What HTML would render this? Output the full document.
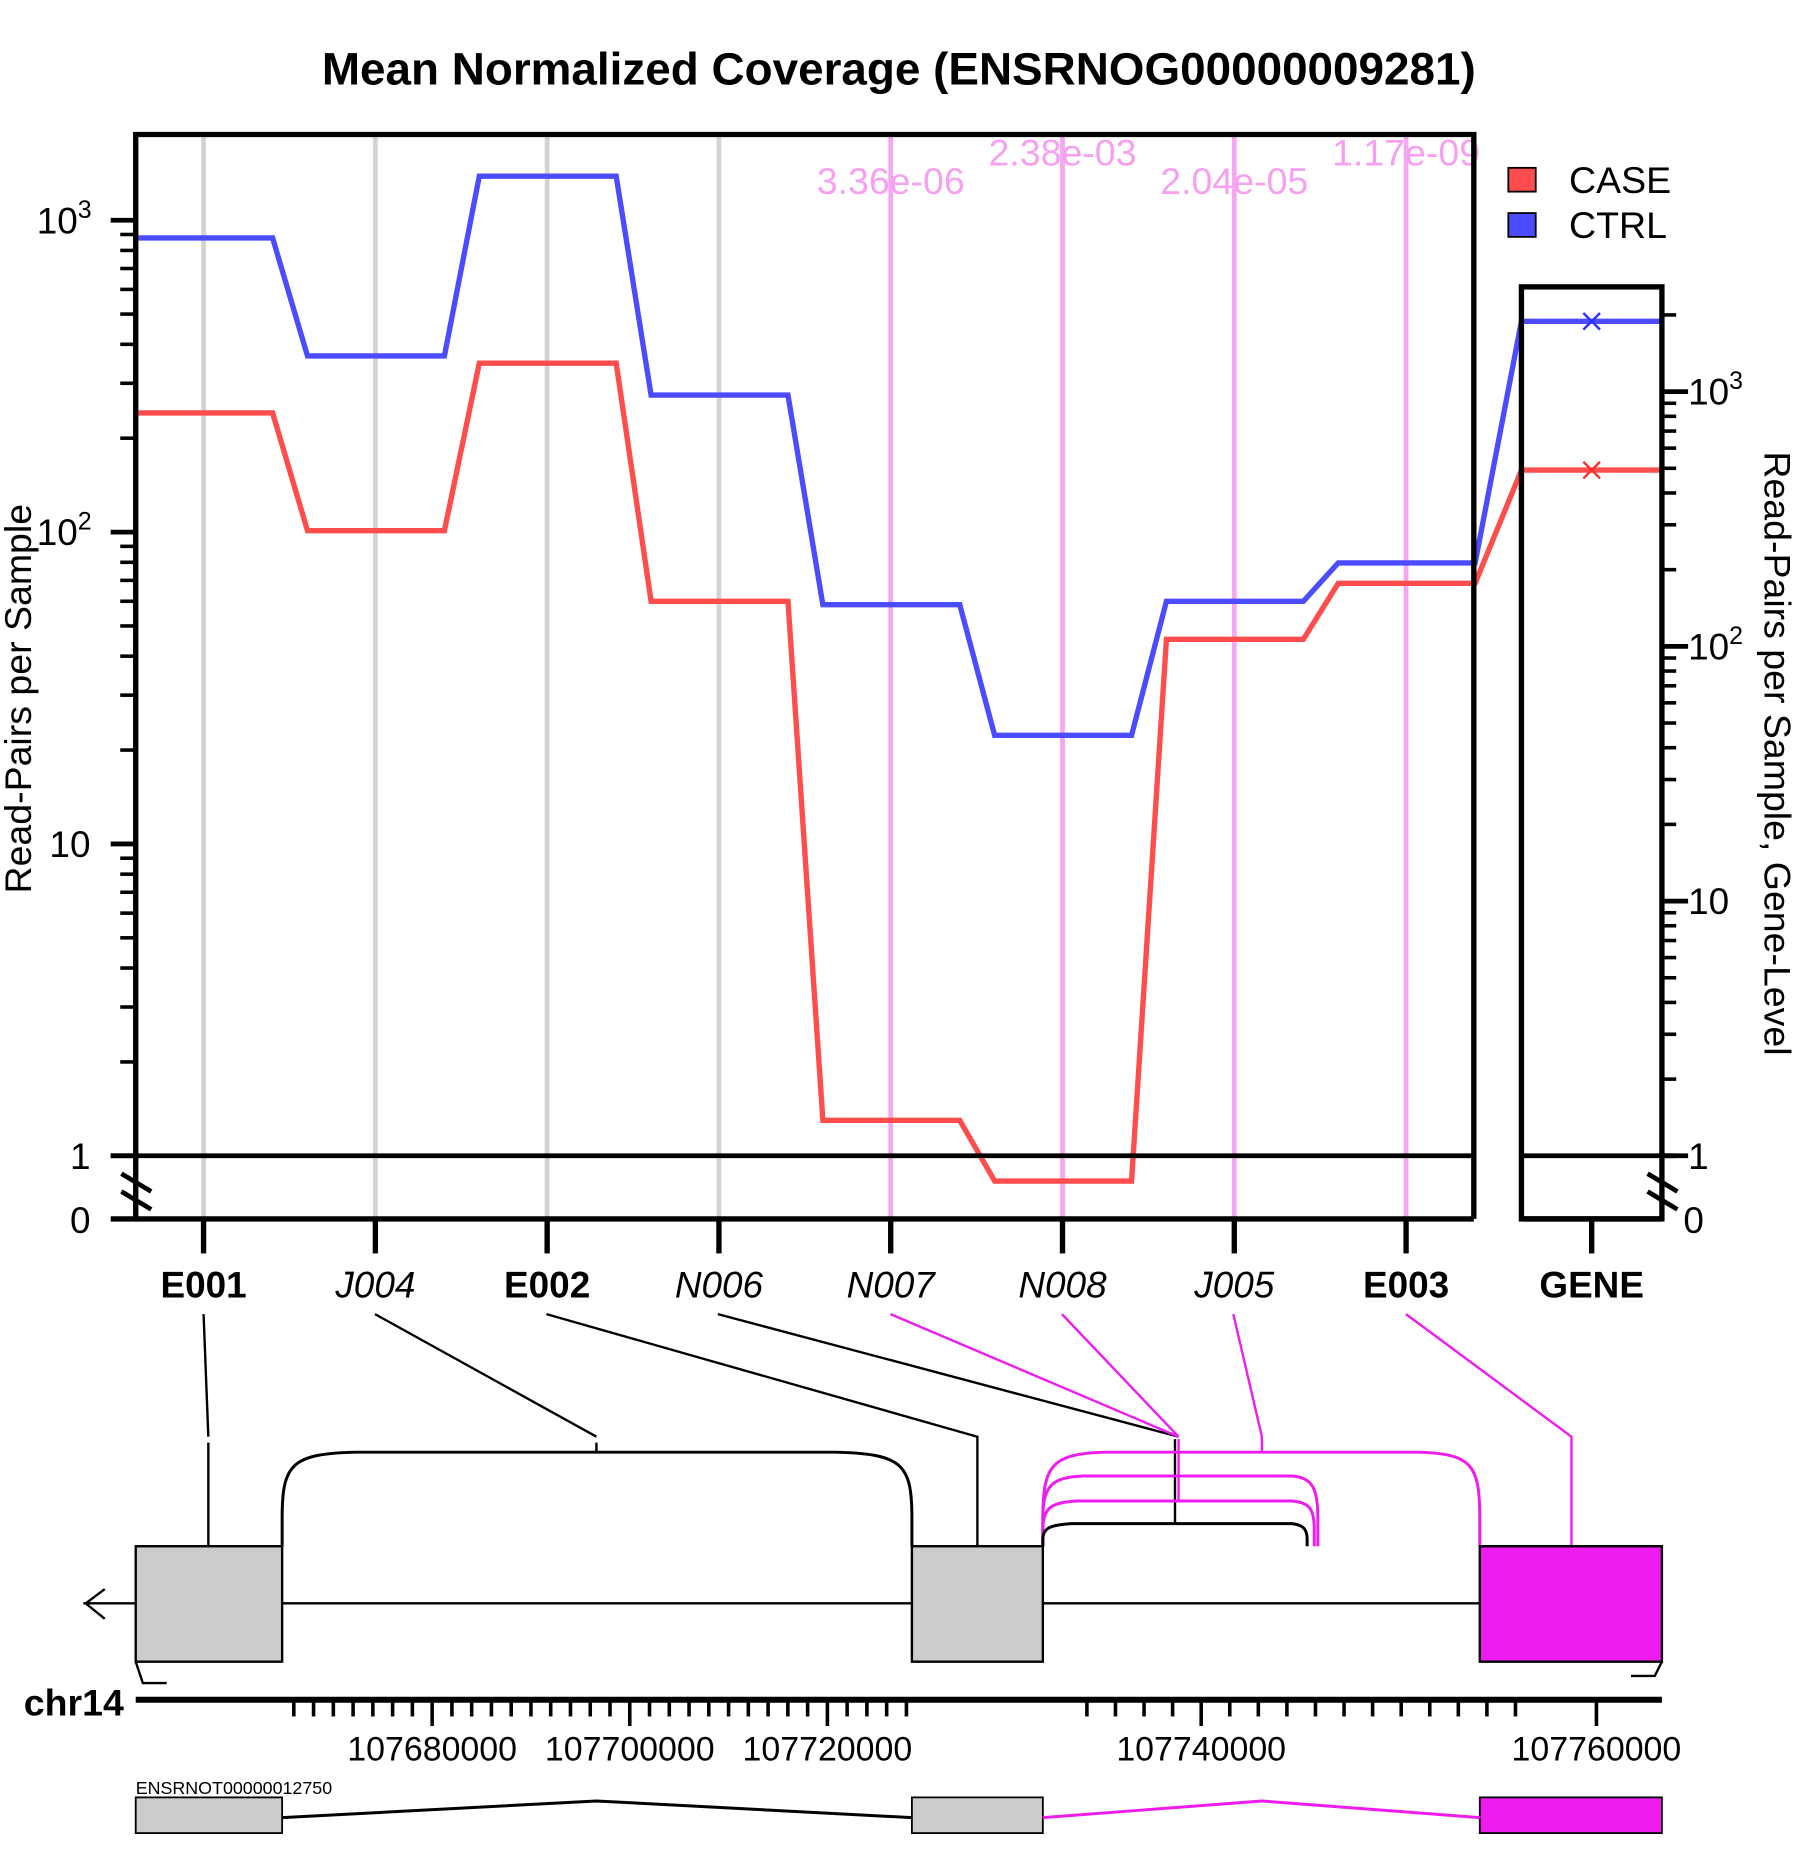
<!DOCTYPE html>
<html><head><meta charset="utf-8"><style>
html,body{margin:0;padding:0;background:#fff;}
svg{display:block;font-family:"Liberation Sans",Arial,sans-serif;}
</style></head><body>
<svg id="chart" width="1800" height="1870" viewBox="0 0 1512 1571" preserveAspectRatio="none" xmlns="http://www.w3.org/2000/svg">
<text x="755" y="71" font-size="38.5" font-weight="bold" text-anchor="middle">Mean Normalized Coverage (ENSRNOG00000009281)</text>
<text transform="translate(26,587) rotate(-90)" font-size="31.5" text-anchor="middle">Read-Pairs per Sample</text>
<text transform="translate(1482,633) rotate(90)" font-size="31.5" text-anchor="middle">Read-Pairs per Sample, Gene-Level</text>
<g id="legend">
<rect x="1267" y="141" width="23" height="20" fill="#ff4c4c" stroke="#000" stroke-width="1.5"/>
<text x="1318" y="162" font-size="31.5">CASE</text>
<rect x="1267" y="179" width="23" height="20" fill="#4c4cff" stroke="#000" stroke-width="1.5"/>
<text x="1318" y="200" font-size="31.5">CTRL</text>
</g>
<g id="g-grid"></g><g id="g-series"></g><g id="g-frame"></g><g id="g-lower"></g>
</svg>
<script>
const features = ["E001","J004","E002","N006","N007","N008","J005","E003"];
const featureBold = [true,false,true,false,false,false,false,true];
const caseValues = [241,101,348,60,1.30,0.6,45.3,68.5];
const ctrlValues = [877,367,1384,275,58.5,22.3,60,79.6];
const geneCase = [492];
const geneCtrl = [1888];
const pValues = ["","","","","3.36e-06","2.38e-03","2.04e-05","1.17e-09"];
const genomicLabels = [107680000,107700000,107720000,107740000,107760000];

const NS="http://www.w3.org/2000/svg";
function mk(parent,tag,attrs){const e=document.createElementNS(NS,tag);for(const k in attrs)e.setAttribute(k,attrs[k]);parent.appendChild(e);return e;}
const X0=114,X1=1238,Y0=971,YZ=1024,DEC=262;
function xF(i){return 171+i*144.3;}
function yF(v){return v>=1?Y0-DEC*Math.log10(v):YZ-53*v;}
function yG(v){return v>=1?Y0-214*Math.log10(v):YZ-53*v;}
const grid=document.getElementById('g-grid'),ser=document.getElementById('g-series'),fr=document.getElementById('g-frame'),low=document.getElementById('g-lower');

features.forEach((f,i)=>{
  const x=xF(i),sig=pValues[i]!=="";
  const l=mk(grid,'line',{x1:x,x2:x,y1:115,y2:1024,stroke:sig?'#f7a6f2':'#d3d3d3','stroke-width':4});
  
  
  if(sig){
    const t=mk(grid,'text',{x:x,y:(i%2===0)?163:139,'font-size':31.5,fill:'#f7a0f0','text-anchor':'middle'});
    t.textContent=pValues[i];
    
    
  }
});

function seriesPath(vals,g,yfun){
  let d='';
  vals.forEach((v,i)=>{const x=xF(i);d+=(i?'L':'M')+(x-57)+','+yF(v)+'L'+(x+58)+','+yF(v);});
  d+='L1278,'+yfun(g)+'L1396,'+yfun(g);
  return d;
}
const pc=mk(ser,'path',{d:seriesPath(caseValues,geneCase[0],yG),fill:'none',stroke:'#ff4c4c','stroke-width':4.5});


const pt=mk(ser,'path',{d:seriesPath(ctrlValues,geneCtrl[0],yG),fill:'none',stroke:'#4c4cff','stroke-width':4.5});


[[geneCase[0],'#ff3030','gene-case-marker'],[geneCtrl[0],'#3030ff','gene-ctrl-marker']].forEach(m=>{
  const y=yG(m[0]);
  const p=mk(ser,'path',{d:`M1330,${y-7}L1344,${y+7}M1330,${y+7}L1344,${y-7}`,stroke:m[1],'stroke-width':2});
  
  
});

let r=mk(fr,'path',{d:`M${X0},1024L${X0},113L${X1},113L${X1},1024`,fill:'none',stroke:'#000','stroke-width':4.5});


r=mk(fr,'rect',{x:1278,y:241,width:118,height:783,fill:'none',stroke:'#000','stroke-width':4.5});


r=mk(fr,'line',{x1:93,x2:X1,y1:1024,y2:1024,stroke:'#000','stroke-width':4.5});


r=mk(fr,'line',{x1:1278,x2:1396,y1:1024,y2:1024,stroke:'#000','stroke-width':4.5});


r=mk(fr,'line',{x1:93,x2:X1,y1:971,y2:971,stroke:'#000','stroke-width':4});


r=mk(fr,'line',{x1:1278,x2:1408,y1:971,y2:971,stroke:'#000','stroke-width':4});


[[114,'left-axis-break'],[1396,'right-axis-break']].forEach(b=>{
  const p=mk(fr,'path',{d:`M${b[0]-12},${986}L${b[0]+13},${1001}M${b[0]-12},${1001}L${b[0]+13},${1016}`,stroke:'#000','stroke-width':4});
  
  
});
for(let k=0;k<4;k++){for(let m=1;m<10;m++){const v=m*Math.pow(10,k);if(v>1000&&m>1)continue;const y=yF(v);
  const t=mk(fr,'line',{x1:m===1?93:101,x2:X0,y1:y,y2:y,stroke:'#000','stroke-width':m===1?4:3});
  
  }}
const yLabels=[[1000,'3'],[100,'2'],[10,''],[1,'']];
yLabels.forEach(l=>{const y=yF(l[0]);
  const t=mk(fr,'text',{x:76,y:y+11,'font-size':31,'text-anchor':'end'});
  if(l[1]){t.textContent='10';const s=mk(t,'tspan',{dy:-13,'font-size':21});s.textContent=l[1];t.setAttribute('x',77);}
  else t.textContent=String(l[0]);
  
  });
let z=mk(fr,'text',{x:76,y:1036,'font-size':31,'text-anchor':'end'});z.textContent='0';


for(let k=0;k<4;k++){for(let m=1;m<10;m++){const v=m*Math.pow(10,k);if(v>2000)continue;const y=yG(v);
  const t=mk(fr,'line',{x1:1396,x2:m===1?1418:1408,y1:y,y2:y,stroke:'#000','stroke-width':m===1?4:3});
  
  }}
yLabels.forEach(l=>{const y=yG(l[0]);
  const t=mk(fr,'text',{x:1418,y:y+11,'font-size':31});
  if(l[1]){t.textContent='10';const s=mk(t,'tspan',{dy:-13,'font-size':21});s.textContent=l[1];}
  else t.textContent=String(l[0]);
  
  });
z=mk(fr,'text',{x:1414,y:1036,'font-size':31});z.textContent='0';


features.concat(['GENE']).forEach((f,i)=>{
  const x=i<8?xF(i):1337;
  const t=mk(fr,'line',{x1:x,x2:x,y1:1024,y2:1053,stroke:'#000','stroke-width':4.5});
  
  
  const bold=i<8?featureBold[i]:true;
  const tx=mk(fr,'text',{x:x,y:1090,'font-size':31,'text-anchor':'middle','font-weight':bold?'bold':'normal','font-style':bold?'normal':'italic'});
  tx.textContent=f;
  
  
});

const MG='#ee1cee';
function ln(d,c,w,name){const p=mk(low,'path',{d:d,fill:'none',stroke:c,'stroke-width':w});
  
  return p;}
const connectors=[['M171,1104L175,1207M175,1212L175,1299','#000'],['M315,1104L501,1207M501,1212L501,1220','#000'],['M459,1104L821,1207L821,1299','#000'],['M603,1104L990,1207','#000'],['M748,1104L990,1207','#ee1cee'],['M892,1104L990,1207','#ee1cee'],['M1036,1104L1060,1207L1060,1220','#ee1cee'],['M1181,1104L1320,1207L1320,1299','#ee1cee']];
connectors.forEach((c,i)=>ln(c[0],c[1],2,'connector-'+features[i].toLowerCase()));
ln('M987,1209L987,1281','#000',2,'connector-stem-black');
ln('M990,1209L990,1262','#ee1cee',2,'connector-stem-magenta');
ln('M70,1347L766,1347M876,1347L1243,1347','#000',2,'intron-line');
ln('M88,1335L72,1347L88,1360','#000',2,'strand-arrow');
ln('M237,1299L237,1275C237,1230 245,1221 300,1220L700,1220C758,1221 766,1230 766,1275L766,1299','#000',2.5,'junction-j004');
ln('M876,1299L876,1275C876,1230 884,1221 930,1220L1190,1220C1236,1221 1243,1230 1243,1275L1243,1299',MG,2.5,'junction-j005');
ln('M876,1299L876,1275C876,1248 884,1241 910,1240L1085,1240C1102,1241 1107,1250 1107,1275L1107,1299',MG,2.5,'junction-n007');
ln('M876,1299L876,1285C876,1266 884,1262 905,1261L1085,1261C1100,1262 1104,1268 1104,1285L1104,1299',MG,2.5,'junction-n008');
ln('M876,1299L876,1293C876,1283 884,1281 900,1280L1085,1280C1095,1281 1098,1285 1098,1293L1098,1299','#000',2.5,'junction-n006');
[[114,237,'#cccccc','exon-e001'],[766,876,'#cccccc','exon-e002'],[1243,1396,MG,'exon-e003']].forEach(e=>{
  const rr=mk(low,'rect',{x:e[0],y:1299,width:e[1]-e[0],height:97,fill:e[2],stroke:'#000','stroke-width':2});
  
  
  const r2=mk(low,'rect',{x:e[0],y:1510,width:e[1]-e[0],height:30,fill:e[2],stroke:'#000','stroke-width':1.5});
  
  
});
ln('M114,1396L120,1414L140,1414','#000',2,'left-bracket');
ln('M1396,1396L1390,1408L1370,1408','#000',2,'right-bracket');
ln('M114,1428L1396,1428','#000',5,'chromosome-axis');
const ch=mk(low,'text',{x:20,y:1441,'font-size':31.5,'font-weight':'bold'});ch.textContent='chr14';


function gx(g){
  if(g<=107729000) return 363+(g-107680000)*166/20000;
  if(g<=107752000) return 1009+(g-107740000)*24/1000;
  return 1341+(g-107760000)*24/1000;
}
for(let g=107666000;g<=107728000;g+=2000){const x=gx(g);const maj=g%20000===0;
  const t=mk(low,'line',{x1:x,x2:x,y1:1428,y2:maj?1450:1442,stroke:'#000','stroke-width':3});
  
  }
for(let g=107736000;g<=107751000;g+=1000){const x=gx(g);const maj=g%20000===0;
  const t=mk(low,'line',{x1:x,x2:x,y1:1428,y2:maj?1450:1442,stroke:'#000','stroke-width':3});
  
  }
{const t=mk(low,'line',{x1:gx(107760000),x2:gx(107760000),y1:1428,y2:1450,stroke:'#000','stroke-width':3});
  
  }
genomicLabels.forEach(g=>{const t=mk(low,'text',{x:gx(g),y:1479,'font-size':28.5,'text-anchor':'middle'});t.textContent=String(g);
  
  });
const tn=mk(low,'text',{x:114,y:1507,'font-size':15});tn.textContent='ENSRNOT00000012750';


ln('M237,1527L501,1513L766,1527','#000',2.5,'transcript-intron-1');
ln('M876,1527L1060,1513L1243,1527',MG,2.5,'transcript-intron-2');
</script>
</body></html>
